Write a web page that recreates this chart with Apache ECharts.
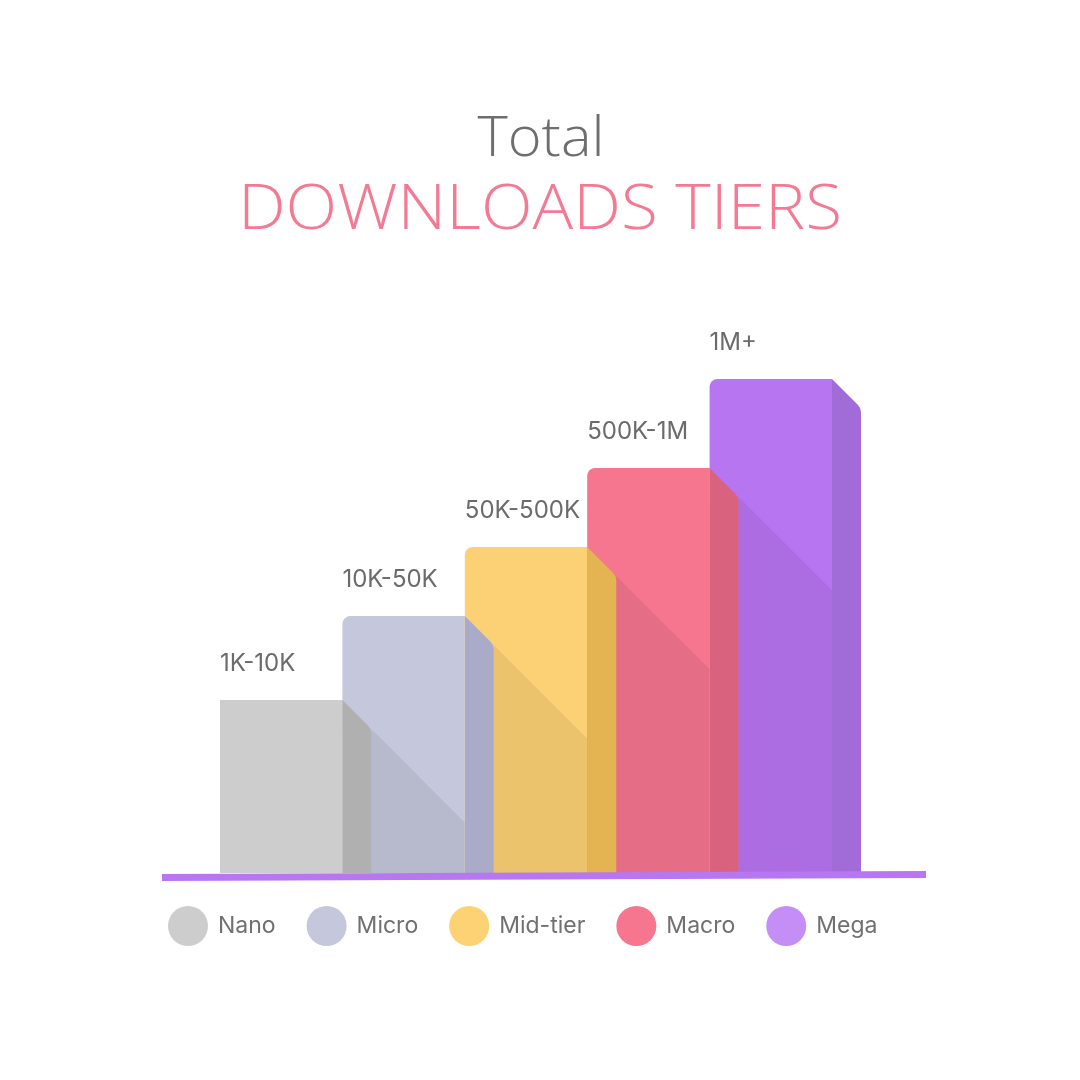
<!DOCTYPE html>
<html>
<head>
<meta charset="utf-8">
<script src="https://cdn.jsdelivr.net/npm/echarts@6/dist/echarts.min.js"></script>
<style>html,body{margin:0;padding:0;background:#fff;}#c{width:1080px;height:1080px;}</style>
</head>
<body>
<div id="c"></div>
<script>
const categories = ['Nano', 'Micro', 'Mid-tier', 'Macro', 'Mega'];
const tierLabels = ['1K-10K', '10K-50K', '50K-500K', '500K-1M', '1M+'];
const values = [35, 52, 66, 82, 100];
const titleText = 'Total';
const subtitleText = 'DOWNLOADS TIERS';
const frontColors = ['#cdcdcd', '#c5c7dc', '#fcd175', '#f6758f', '#b875f2'];
const sideColors = ['#b0b0b0', '#a9abc8', '#e4b352', '#d9627f', '#a16cd8'];
const legendColors = ['#cdcdcd', '#c5c7dc', '#fdd274', '#f6758f', '#c58ef6'];

const SIDE = 29;
const TITLE_FONT = '"Open Sans", Roboto, sans-serif';
const FONT = 'Inter, Roboto, sans-serif';

function renderItem(params, api) {
  const i = api.value(0);
  const v = api.value(1);
  const top = api.coord([i, v]);
  const base = api.coord([i, 0]);
  const bw = api.size([1, 0])[0];
  const xl = top[0] - bw / 2;
  const xr = top[0] + bw / 2;
  const children = [
    { type: 'rect', z2: 0,
      shape: { x: xl, y: top[1], width: bw, height: base[1] - top[1], r: [i === 0 ? 0 : 8, 0, 0, 0] },
      style: { fill: frontColors[i] } },
    { type: 'path', z2: 2,
      shape: { pathData: 'M' + xr + ' ' + top[1] + ' L' + (xr + SIDE - 3) + ' ' + (top[1] + SIDE - 3) +
        ' Q' + (xr + SIDE) + ' ' + (top[1] + SIDE) + ' ' + (xr + SIDE) + ' ' + (top[1] + SIDE + 4) +
        ' L' + (xr + SIDE) + ' ' + base[1] + ' L' + xr + ' ' + base[1] + ' Z' },
      style: { fill: sideColors[i] } },
    { type: 'text', z2: 3,
      style: { text: tierLabels[i], x: xl, y: top[1] - 36, verticalAlign: 'middle', align: 'left',
        fill: '#6b6b6b', font: '400 24px ' + FONT } }
  ];
  if (i < values.length - 1) {
    const nTop = api.coord([i + 1, values[i + 1]]);
    const nxr = nTop[0] + bw / 2;
    children.push({ type: 'polygon', z2: 1,
      shape: { points: [[xr + SIDE, top[1] + SIDE], [nxr, top[1] + (nxr - xr)], [nxr, base[1]], [xr + SIDE, base[1]]] },
      style: { fill: 'rgba(0,0,0,0.065)' } });
  }
  return { type: 'group', children: children };
}

const chart = echarts.init(document.getElementById('c'));
chart.setOption({
  backgroundColor: '#ffffff',
  animation: false,
  legend: {
    data: categories,
    left: 163,
    top: 901,
    icon: 'circle',
    itemWidth: 40,
    itemHeight: 40,
    itemGap: 31,
    textStyle: { fontFamily: FONT, fontSize: 23, color: '#707070', padding: [0, 0, 0, 5] }
  },
  grid: { left: 220, width: 612, top: 379, bottom: 207 },
  xAxis: { type: 'category', data: categories, show: false },
  yAxis: { type: 'value', min: 0, max: 100, show: false },
  graphic: [
    { type: 'text', x: 541, y: 140, scaleX: 1.03,
      style: { text: titleText, align: 'center', verticalAlign: 'middle',
        font: '300 56px ' + TITLE_FONT, fill: '#6e6e6e' } },
    { type: 'text', x: 540, y: 211, scaleX: 1.09,
      style: { text: subtitleText, align: 'center', verticalAlign: 'middle',
        font: '300 62px ' + TITLE_FONT, fill: '#f47a93' } },
    { type: 'polygon', z: 10,
      shape: { points: [[162, 874], [926, 871], [926, 878], [162, 881]] },
      style: { fill: '#b877f2' } }
  ],
  series: categories.map((name, i) => ({
    type: 'custom',
    name: name,
    renderItem: renderItem,
    clip: false,
    itemStyle: { color: legendColors[i] },
    data: [[i, values[i]]]
  }))
});
</script>
</body>
</html>
